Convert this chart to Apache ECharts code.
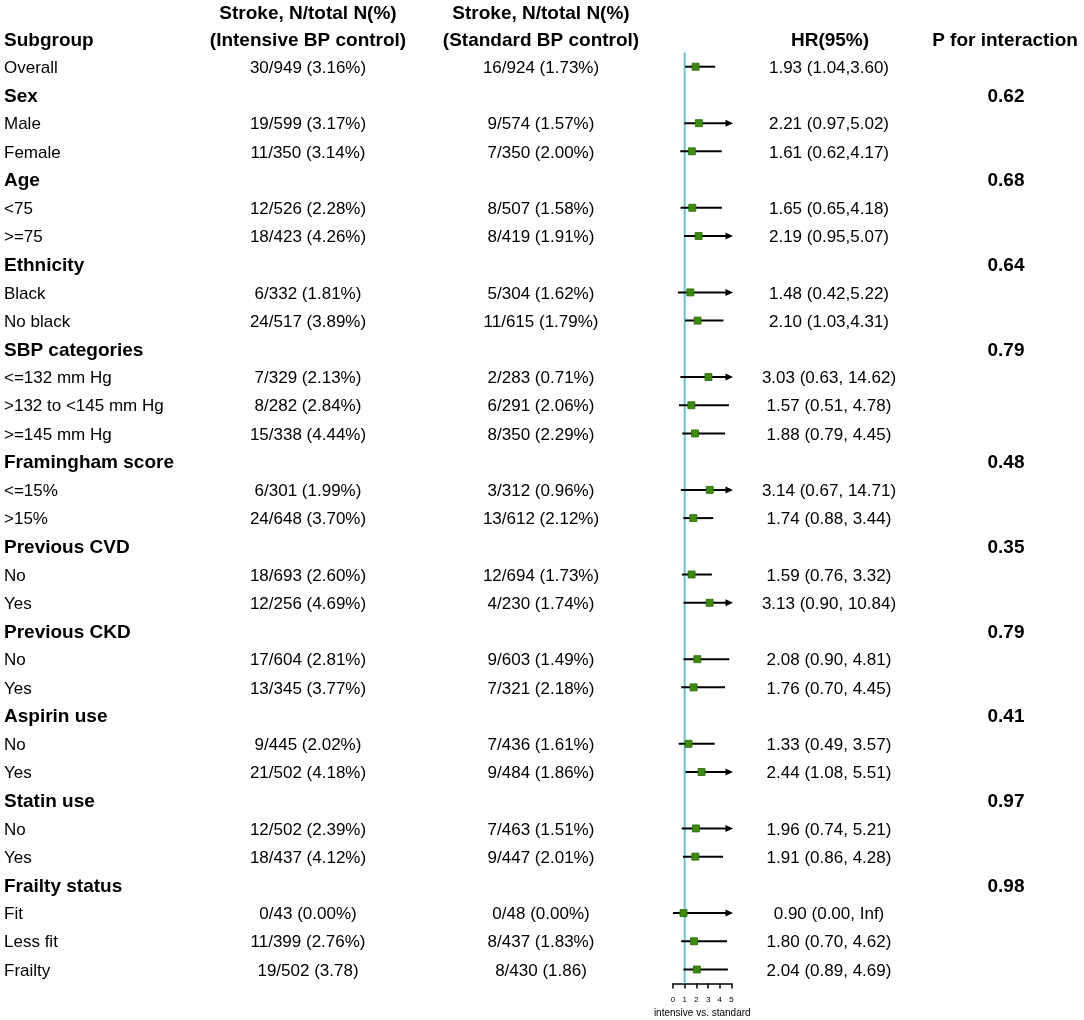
<!DOCTYPE html>
<html>
<head>
<meta charset="utf-8">
<script src="https://cdn.jsdelivr.net/npm/echarts@6/dist/echarts.min.js"></script>
<style>
html,body{margin:0;padding:0;background:#fff;}
#chart{width:1084px;height:1020px;}
</style>
</head>
<body>
<div id="chart"></div>
<script>
// ---- data ----
const subgroups = ['Overall','Sex','Male','Female','Age','<75','>=75','Ethnicity','Black','No black',
  'SBP categories','<=132 mm Hg','>132 to <145 mm Hg','>=145 mm Hg','Framingham score','<=15%','>15%',
  'Previous CVD','No','Yes','Previous CKD','No','Yes','Aspirin use','No','Yes','Statin use','No','Yes',
  'Frailty status','Fit','Less fit','Frailty'];
const isGroupHeader = [false,true,false,false,true,false,false,true,false,false,
  true,false,false,false,true,false,false,
  true,false,false,true,false,false,true,false,false,true,false,false,
  true,false,false,false];
const intensiveText = ['30/949 (3.16%)','','19/599 (3.17%)','11/350 (3.14%)','','12/526 (2.28%)','18/423 (4.26%)','','6/332 (1.81%)','24/517 (3.89%)',
  '','7/329 (2.13%)','8/282 (2.84%)','15/338 (4.44%)','','6/301 (1.99%)','24/648 (3.70%)',
  '','18/693 (2.60%)','12/256 (4.69%)','','17/604 (2.81%)','13/345 (3.77%)','','9/445 (2.02%)','21/502 (4.18%)','','12/502 (2.39%)','18/437 (4.12%)',
  '','0/43 (0.00%)','11/399 (2.76%)','19/502 (3.78)'];
const standardText = ['16/924 (1.73%)','','9/574 (1.57%)','7/350 (2.00%)','','8/507 (1.58%)','8/419 (1.91%)','','5/304 (1.62%)','11/615 (1.79%)',
  '','2/283 (0.71%)','6/291 (2.06%)','8/350 (2.29%)','','3/312 (0.96%)','13/612 (2.12%)',
  '','12/694 (1.73%)','4/230 (1.74%)','','9/603 (1.49%)','7/321 (2.18%)','','7/436 (1.61%)','9/484 (1.86%)','','7/463 (1.51%)','9/447 (2.01%)',
  '','0/48 (0.00%)','8/437 (1.83%)','8/430 (1.86)'];
const hrText = ['1.93 (1.04,3.60)','','2.21 (0.97,5.02)','1.61 (0.62,4.17)','','1.65 (0.65,4.18)','2.19 (0.95,5.07)','','1.48 (0.42,5.22)','2.10 (1.03,4.31)',
  '','3.03 (0.63, 14.62)','1.57 (0.51, 4.78)','1.88 (0.79, 4.45)','','3.14 (0.67, 14.71)','1.74 (0.88, 3.44)',
  '','1.59 (0.76, 3.32)','3.13 (0.90, 10.84)','','2.08 (0.90, 4.81)','1.76 (0.70, 4.45)','','1.33 (0.49, 3.57)','2.44 (1.08, 5.51)','','1.96 (0.74, 5.21)','1.91 (0.86, 4.28)',
  '','0.90 (0.00, Inf)','1.80 (0.70, 4.62)','2.04 (0.89, 4.69)'];
const pInteraction = ['','0.62','','','0.68','','','0.64','','',
  '0.79','','','','0.48','','',
  '0.35','','','0.79','','','0.41','','','0.97','','',
  '0.98','','',''];
const hr = [1.93,null,2.21,1.61,null,1.65,2.19,null,1.48,2.10,
  null,3.03,1.57,1.88,null,3.14,1.74,
  null,1.59,3.13,null,2.08,1.76,null,1.33,2.44,null,1.96,1.91,
  null,0.90,1.80,2.04];
const lo = [1.04,null,0.97,0.62,null,0.65,0.95,null,0.42,1.03,
  null,0.63,0.51,0.79,null,0.67,0.88,
  null,0.76,0.90,null,0.90,0.70,null,0.49,1.08,null,0.74,0.86,
  null,0.00,0.70,0.89];
const hi = [3.60,null,5.02,4.17,null,4.18,5.07,null,5.22,4.31,
  null,14.62,4.78,4.45,null,14.71,3.44,
  null,3.32,10.84,null,4.81,4.45,null,3.57,5.51,null,5.21,4.28,
  null,Infinity,4.62,4.69];
const xTicks = [0,1,2,3,4,5];
const refValue = 1;

// ---- chart ----
const FONT = "'Liberation Sans', Arial, Helvetica, sans-serif";
const REG = 17, BOLD = 19;
const COL = { sub: 4, intensive: 308, standard: 541, hr: 829, p: 1006 };
const DY = 1.5;
const GREEN = '#3d8b10', GREEN_DARK = '#2a6a08', REF = '#6cc4cc';
const AXMAX = xTicks[xTicks.length - 1];

const chart = echarts.init(document.getElementById('chart'), null, {renderer: 'canvas'});

const rowData = subgroups.map((s, i) => [0, i]);
const forestData = [];
hr.forEach((v, i) => { if (v !== null) forestData.push([v, i, lo[i], hi[i]]); });

function txt(text, x, y, align, bold) {
  return { type: 'text', style: { text: text, x: x, y: y, align: align, verticalAlign: 'middle',
    fontFamily: FONT, fontSize: bold ? BOLD : REG, fontWeight: bold ? 'bold' : 'normal', fill: '#000' } };
}

const option = {
  backgroundColor: '#fff',
  animation: false,
  grid: { left: 673, width: 58.5, top: 52.6, height: 931, containLabel: false, outerBoundsMode: 'none' },
  xAxis: {
    type: 'value', min: 0, max: AXMAX, interval: 1,
    axisLine: { show: true, lineStyle: { color: '#000', width: 1.5 } },
    axisTick: { show: true, length: 5, lineStyle: { color: '#000', width: 1.5 } },
    axisLabel: { fontSize: 8, color: '#000', margin: 12, fontFamily: FONT },
    splitLine: { show: false },
    name: 'intensive vs. standard', nameLocation: 'middle', nameGap: 25,
    nameTextStyle: { fontSize: 10, color: '#000', fontFamily: FONT }
  },
  yAxis: {
    type: 'category', data: subgroups.map((s, i) => i), inverse: true,
    show: false, boundaryGap: true
  },
  graphic: [
    txt('Subgroup', COL.sub, 41, 'left', true),
    txt('Stroke, N/total N(%)', COL.intensive, 13.5, 'center', true),
    txt('(Intensive BP control)', COL.intensive, 41, 'center', true),
    txt('Stroke, N/total N(%)', COL.standard, 13.5, 'center', true),
    txt('(Standard BP control)', COL.standard, 41, 'center', true),
    txt('HR(95%)', 830, 41, 'center', true),
    txt('P for interaction', 1005, 41, 'center', true)
  ],
  series: [
    {
      // reference line at HR = 1
      type: 'custom', z: 1, silent: true,
      data: [[refValue, 0]],
      renderItem: function (params, api) {
        const cs = params.coordSys;
        const x = api.coord([api.value(0), 0])[0];
        return { type: 'line', shape: { x1: x, y1: cs.y, x2: x, y2: cs.y + cs.height },
          style: { stroke: REF, lineWidth: 2 } };
      }
    },
    {
      // text columns
      type: 'custom', z: 3, silent: true, clip: false,
      data: rowData,
      renderItem: function (params, api) {
        const i = api.value(1);
        const y = api.coord([0, i])[1] + DY;
        const g = isGroupHeader[i];
        const children = [txt(subgroups[i], COL.sub, y, 'left', g)];
        if (intensiveText[i]) children.push(txt(intensiveText[i], COL.intensive, y, 'center', false));
        if (standardText[i]) children.push(txt(standardText[i], COL.standard, y, 'center', false));
        if (hrText[i]) children.push(txt(hrText[i], COL.hr, y, 'center', false));
        if (pInteraction[i]) children.push(txt(pInteraction[i], COL.p, y, 'center', true));
        return { type: 'group', children: children };
      }
    },
    {
      // forest marks
      type: 'custom', z: 5, silent: true, clip: false,
      data: forestData,
      renderItem: function (params, api) {
        const i = api.value(1);
        const h = api.value(0), l = api.value(2), u = api.value(3);
        const y = api.coord([h, i])[1];
        const xh = api.coord([h, i])[0];
        const xl = api.coord([l, i])[0];
        const arrow = u > AXMAX;
        const xu = api.coord([Math.min(u, AXMAX), i])[0];
        const children = [];
        const lineEnd = arrow ? xu - 5 : xu;
        children.push({ type: 'line', shape: { x1: xl, y1: y, x2: lineEnd, y2: y },
          style: { stroke: '#000', lineWidth: 2 } });
        if (arrow) {
          children.push({ type: 'polygon', shape: { points: [[xu + 1.5, y], [xu - 6, y - 3.5], [xu - 6, y + 3.5]] },
            style: { fill: '#000' } });
        }
        const s = 7;
        children.push({ type: 'rect', shape: { x: xh - s / 2, y: y - s / 2, width: s, height: s },
          style: { fill: GREEN, stroke: GREEN_DARK, lineWidth: 0.8 } });
        return { type: 'group', children: children };
      }
    }
  ]
};
chart.setOption(option);
</script>
</body>
</html>
